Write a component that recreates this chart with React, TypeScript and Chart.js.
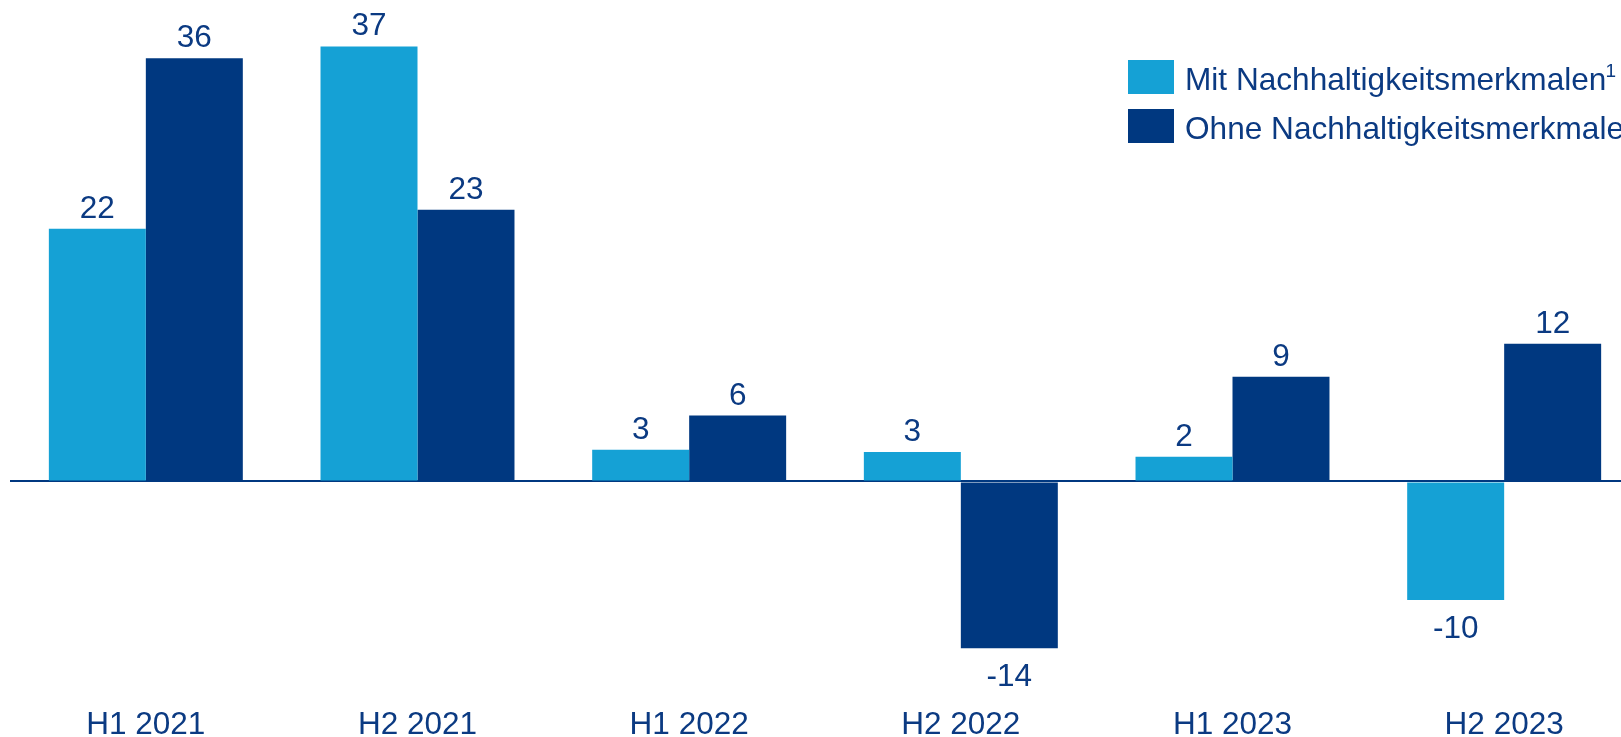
import React, { useEffect, useRef } from "react";
import { Chart, registerables } from "chart.js";

Chart.register(...registerables);

const categories = ["H1 2021", "H2 2021", "H1 2022", "H2 2022", "H1 2023", "H2 2023"];
const mitValues = [21.5, 37.0, 2.7, 2.5, 2.1, -10.1];
const ohneValues = [36.0, 23.1, 5.6, -14.2, 8.9, 11.7];
const seriesLabels = ["Mit Nachhaltigkeitsmerkmalen", "Ohne Nachhaltigkeitsmerkmalen"];
const seriesFootnotes = ["1", ""];
const seriesColors = ["#15a1d5", "#003880"];

const TEXT_COLOR = "#0b3a82";
const FONT_FAMILY = "'Liberation Sans', Arial, sans-serif";

const valueLabelPlugin = {
  id: "valueLabels",
  afterDatasetsDraw(chart: any) {
    const ctx = chart.ctx;
    ctx.save();
    ctx.font = `31.5px ${FONT_FAMILY}`;
    ctx.fillStyle = TEXT_COLOR;
    ctx.textAlign = "center";
    ctx.textBaseline = "alphabetic";
    chart.data.datasets.forEach((ds: any, di: number) => {
      const meta = chart.getDatasetMeta(di);
      meta.data.forEach((bar: any, i: number) => {
        const v = ds.data[i];
        const txt = String(Math.round(v));
        if (v >= 0) {
          ctx.fillText(txt, bar.x, bar.y - 11);
        } else {
          ctx.fillText(txt, bar.x, bar.y + 38);
        }
      });
    });
    ctx.restore();
  },
};

const legendPlugin = {
  id: "customLegend",
  afterDraw(chart: any) {
    const ctx = chart.ctx;
    ctx.save();
    const x0 = 1128;
    const ys = [60, 109];
    chart.data.datasets.forEach((ds: any, di: number) => {
      const y = ys[di];
      ctx.fillStyle = ds.backgroundColor;
      ctx.fillRect(x0, y, 46, 34);
      ctx.fillStyle = TEXT_COLOR;
      ctx.font = `31.6px ${FONT_FAMILY}`;
      ctx.textAlign = "left";
      ctx.textBaseline = "alphabetic";
      ctx.fillText(ds.label, x0 + 57, y + 30);
      const w = ctx.measureText(ds.label).width;
      const fn = seriesFootnotes[di];
      if (fn) {
        ctx.font = `19px ${FONT_FAMILY}`;
        ctx.fillText(fn, x0 + 57 + w - 1, y + 17);
      }
    });
    ctx.restore();
  },
};

export default function App() {
  const canvasRef = useRef<HTMLCanvasElement | null>(null);

  useEffect(() => {
    if (!canvasRef.current) return;
    const chart = new Chart(canvasRef.current, {
      type: "bar",
      data: {
        labels: categories,
        datasets: [
          {
            label: seriesLabels[0],
            data: mitValues,
            backgroundColor: seriesColors[0],
            borderWidth: 0,
            categoryPercentage: 0.714,
            barPercentage: 1.0,
          },
          {
            label: seriesLabels[1],
            data: ohneValues,
            backgroundColor: seriesColors[1],
            borderWidth: 0,
            categoryPercentage: 0.714,
            barPercentage: 1.0,
          },
        ],
      },
      options: {
        responsive: false,
        animation: false,
        devicePixelRatio: 1,
        layout: { padding: { left: 10, top: 11.2, right: 0, bottom: 0 } },
        plugins: {
          legend: { display: false },
          tooltip: { enabled: false },
        },
        scales: {
          x: {
            grid: { display: false, drawTicks: false },
            border: { display: false },
            ticks: {
              color: TEXT_COLOR,
              font: { size: 31.5, family: FONT_FAMILY },
              padding: 25,
              maxRotation: 0,
            },
          },
          y: {
            min: -17,
            max: 40,
            z: 1,
            border: { display: false },
            ticks: { display: false, stepSize: 10 },
            grid: {
              drawTicks: false,
              lineWidth: 2,
              color: (c: any) => (c.tick && c.tick.value === 0 ? "#003880" : "rgba(0,0,0,0)"),
            },
          },
        },
      },
      plugins: [valueLabelPlugin, legendPlugin],
    });
    return () => chart.destroy();
  }, []);

  return (
    <div
      style={{
        position: "fixed",
        left: 0,
        top: 0,
        width: "100vw",
        height: "100vh",
        overflow: "hidden",
        background: "#ffffff",
      }}
    >
      <canvas ref={canvasRef} width={1640} height={769} style={{ display: "block" }} />
    </div>
  );
}
